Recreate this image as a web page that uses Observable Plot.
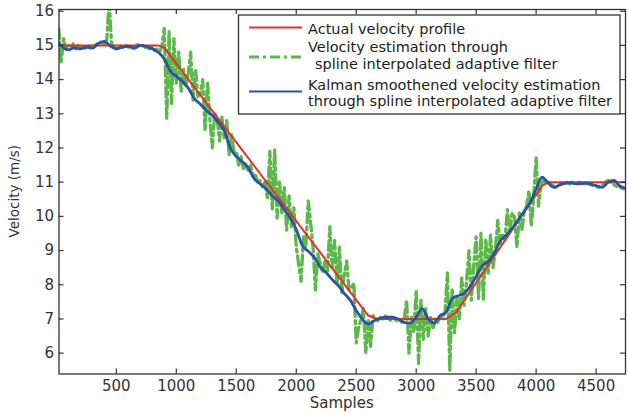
<!DOCTYPE html>
<html>
<head>
<meta charset="utf-8">
<script src="https://cdn.jsdelivr.net/npm/d3@7"></script>
<script src="https://cdn.jsdelivr.net/npm/@observablehq/plot@0.6"></script>
<style>
  html, body { margin: 0; padding: 0; background: #fff; }
  #chart { width: 628px; height: 415px; }
</style>
</head>
<body>
<div id="chart"></div>
<script>
// Axis ticks
const xTicks = [500, 1000, 1500, 2000, 2500, 3000, 3500, 4000, 4500];
const yTicks = [6, 7, 8, 9, 10, 11, 12, 13, 14, 15, 16];

// Actual velocity profile (sample, m/s)
const actualSamples = [0, 850, 900, 2600, 2680, 3250, 3330, 4050, 4110, 4750];
const actualValues  = [15, 15, 14.93, 7.1, 7, 7, 7.18, 10.9, 11, 11];

// Spline interpolated adaptive filter estimate, one value every 20 samples from sample 20
const estimateStart = 20, estimateStep = 20;
const estimateValues = [
  15.5, 14.5, 15.2, 14.9, 15.0,        // 20-100
  14.95, 15.05, 14.9, 15.0, 14.95,     // 120-200
  15.0, 14.92, 15.02, 14.95, 14.97,    // 220-300
  15.0, 15.05, 15.1, 15.08, 15.0,      // 320-400
  15.15, 16.3, 15.05, 14.95, 14.9,     // 420-500
  14.95, 14.98, 14.92, 15.0, 14.95,    // 520-600
  14.97, 14.92, 15.0, 15.02, 14.98,    // 620-700
  15.0, 14.95, 14.93, 14.9, 14.95,     // 720-800
  14.85, 14.9, 14.8, 15.0, 15.5,       // 820-900
  12.85, 15.4, 13.3, 15.2, 13.9,       // 920-1000
  14.8, 13.65, 14.3, 13.8, 14.2,       // 1020-1100
  14.8, 13.4, 14.3, 13.5, 13.6,        // 1120-1200
  14.0, 12.5, 13.95, 12.85, 12.0,      // 1220-1300
  13.0, 12.9, 12.2, 12.9, 12.3,        // 1320-1400
  12.8, 11.8, 12.4, 11.9, 11.9,        // 1420-1500
  11.5, 11.75, 11.4, 11.55, 11.3,      // 1520-1600
  11.5, 11.15, 11.2, 11.0, 11.05,      // 1620-1700
  10.85, 11.0, 10.5, 11.9, 10.2,       // 1720-1800
  11.95, 9.95, 11.05, 10.1, 10.85,     // 1820-1900
  9.6, 10.6, 9.7, 10.25, 9.1,          // 1920-2000
  8.6, 8.1, 9.4, 9.1, 10.45,           // 2020-2100
  9.8, 9.1, 7.85, 8.9, 8.6,            // 2120-2200
  8.35, 8.7, 8.4, 9.7, 8.5,            // 2220-2300
  9.3, 8.0, 9.1, 7.75, 8.3,            // 2320-2400
  8.7, 7.85, 7.9, 8.05, 6.3,           // 2420-2500
  6.75, 7.0, 7.3, 6.0, 6.95,           // 2520-2600
  6.2, 7.1, 7.0, 6.95, 7.05,           // 2620-2700
  7.0, 7.1, 7.0, 6.95, 7.05,           // 2720-2800
  7.0, 6.95, 7.0, 6.9, 7.0,            // 2820-2900
  7.55, 6.0, 7.05, 6.6, 7.85,          // 2920-3000
  5.7, 7.55, 6.4, 7.3, 6.5,            // 3020-3100
  7.05, 6.7, 7.0, 6.9, 7.1,            // 3120-3200
  7.0, 7.2, 8.35, 5.5, 7.9,            // 3220-3300
  6.6, 7.65, 7.0, 8.2, 7.4,            // 3320-3400
  8.1, 9.0, 7.55, 8.6, 9.4,            // 3420-3500
  7.6, 9.5, 7.55, 9.35, 8.3,           // 3520-3600
  9.45, 8.5, 9.0, 9.88, 9.2,           // 3620-3700
  9.5, 9.3, 10.2, 9.5, 10.1,           // 3720-3800
  9.97, 9.1, 10.1, 9.6, 10.1,          // 3820-3900
  10.3, 10.75, 9.7, 10.6, 11.75,       // 3920-4000
  10.3, 10.9, 11.1, 10.95, 11.0,       // 4020-4100
  10.95, 10.9, 10.85, 10.9, 10.95,     // 4120-4200
  11.0, 10.97, 11.0, 10.95, 11.0,      // 4220-4300
  10.97, 10.95, 11.0, 10.97, 10.95,    // 4320-4400
  10.97, 10.95, 10.92, 10.9, 10.88,    // 4420-4500
  10.85, 10.9, 10.95, 11.0, 11.05,     // 4520-4600
  11.02, 10.95, 10.9, 10.85, 10.85,    // 4620-4700
  10.82, 10.8                          // 4720-4740
];

// Kalman smoothed estimate, one value every 50 samples from sample 0
const smoothStart = 0, smoothStep = 50;
const smoothValues = [
  15.12, 14.95, 14.87, 14.93, 14.9, 14.95, 14.92, 15.05, 15.12, 14.98,   // 0-450
  14.9, 14.95, 14.97, 14.92, 15.0, 14.97, 14.9, 14.8, 14.6, 14.25,       // 500-950
  14.1, 13.95, 13.75, 13.45, 13.28, 13.1, 12.95, 12.75, 12.5, 12.0,      // 1000-1450
  11.75, 11.6, 11.42, 11.1, 10.95, 10.8, 10.6, 10.45, 10.2, 9.95,        // 1500-1950
  9.62, 9.15, 8.98, 8.8, 8.52, 8.35, 8.15, 7.98, 7.75, 7.55,             // 2000-2450
  7.25, 7.0, 6.85, 6.95, 7.02, 7.05, 7.05, 7.0, 6.9, 6.88,               // 2500-2950
  7.05, 7.3, 7.0, 6.88, 7.1, 7.2, 7.6, 7.68, 7.75, 7.95,                 // 3000-3450
  8.25, 8.55, 8.68, 8.92, 9.28, 9.45, 9.65, 9.9, 10.15, 10.4,            // 3500-3950
  10.8, 11.15, 10.98, 10.85, 10.92, 10.97, 10.97, 10.95, 10.97, 10.95,   // 4000-4450
  10.9, 10.85, 11.0, 11.05, 10.88, 10.82                                 // 4500-4750
];

const actualRows = actualSamples.map((s, i) => ({s, v: actualValues[i]}));
const estimateRows = estimateValues.map((v, i) => ({s: estimateStart + i * estimateStep, v}));
const smoothRows = smoothValues.map((v, i) => ({s: smoothStart + i * smoothStep, v}));

const RED = "#e5302a", GREEN = "#5cb848", BLUE = "#2c52a6", INK = "#333";
const DASHDOT = "10,4,3,4";
const marginLeft = 58.5, marginRight = 3, marginTop = 9, marginBottom = 41.5;
const W = 628, H = 415;
const innerW = W - marginLeft - marginRight, innerH = H - marginTop - marginBottom;
const tickLen = 5;

const chart = Plot.plot({
  width: W, height: H,
  marginLeft, marginRight, marginTop, marginBottom,
  x: {domain: [22, 4745]},
  y: {domain: [5.39, 16.05]},
  style: {fontFamily: "'DejaVu Sans', sans-serif", fontSize: "15px", color: INK, background: "#fff", overflow: "visible"},
  marks: [
    Plot.line(estimateRows, {x: "s", y: "v", stroke: GREEN, strokeWidth: 3.3, strokeDasharray: DASHDOT, clip: true}),
    Plot.line(actualRows, {x: "s", y: "v", stroke: RED, strokeWidth: 2, clip: true}),
    Plot.line(smoothRows, {x: "s", y: "v", stroke: BLUE, strokeWidth: 2.8, curve: "monotone-x", clip: true}),
    // inward tick marks on all four sides
    Plot.tickX(xTicks, {stroke: INK, strokeWidth: 1.2, insetTop: innerH - tickLen}),
    Plot.tickX(xTicks, {stroke: INK, strokeWidth: 1.2, insetBottom: innerH - tickLen}),
    Plot.tickY(yTicks, {stroke: INK, strokeWidth: 1.2, insetRight: innerW - tickLen}),
    Plot.tickY(yTicks, {stroke: INK, strokeWidth: 1.2, insetLeft: innerW - tickLen}),
    Plot.axisX(xTicks, {tickSize: 0, tickPadding: 6, label: null, tickFormat: d => String(d)}),
    Plot.axisY(yTicks, {tickSize: 0, tickPadding: 5, label: null, tickFormat: d => String(d)}),
    Plot.frame({stroke: INK, strokeWidth: 1.3})
  ]
});

const svg = d3.select(chart);

// axis titles
svg.append("text")
  .attr("x", marginLeft + innerW / 2).attr("y", 408)
  .attr("text-anchor", "middle").attr("fill", INK)
  .style("font-size", "15px")
  .text("Samples");
svg.append("text")
  .attr("transform", `translate(14,${marginTop + innerH / 2}) rotate(-90)`)
  .attr("text-anchor", "middle").attr("dominant-baseline", "central").attr("fill", INK)
  .style("font-size", "13.5px")
  .text("Velocity (m/s)");

// legend box
const lg = svg.append("g").style("font-size", "14.5px").attr("text-anchor", "start");
lg.append("rect")
  .attr("x", 238.5).attr("y", 15).attr("width", 381.5).attr("height", 99)
  .attr("fill", "#fff").attr("stroke", INK).attr("stroke-width", 1.3);
const entries = [
  {color: RED, dash: null, lineY: 27.5, lines: [["Actual velocity profile", 308, 33.5]]},
  {color: GREEN, dash: DASHDOT, lineY: 57, lines: [["Velocity estimation through", 308, 51.7], ["spline interpolated adaptive filter", 315, 68.5]]},
  {color: BLUE, dash: null, lineY: 91.5, lines: [["Kalman smoothened velocity estimation", 308, 90], ["through spline interpolated adaptive filter", 308, 106]]}
];
for (const e of entries) {
  lg.append("line")
    .attr("x1", 249).attr("x2", 302).attr("y1", e.lineY).attr("y2", e.lineY)
    .attr("stroke", e.color).attr("stroke-width", e.color === GREEN ? 2.8 : 2.2)
    .attr("stroke-dasharray", e.dash);
  for (const [t, x, y] of e.lines) {
    lg.append("text").attr("x", x).attr("y", y).attr("text-anchor", "start").attr("fill", "#222").text(t);
  }
}

document.getElementById("chart").appendChild(chart);
</script>
</body>
</html>
